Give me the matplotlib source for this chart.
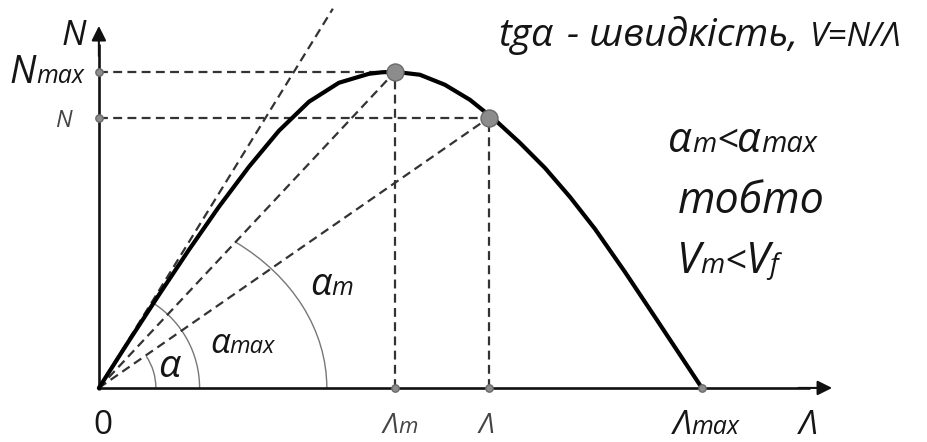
import numpy as np
import matplotlib.pyplot as plt
from matplotlib.patches import Arc

# Fundamental diagram: flow N against density Λ (arbitrary units, Λmax = 100)
lam_curve = [0.0, 4.98, 9.95, 14.93, 19.9, 24.88, 29.85, 34.83, 39.8, 44.78,
             46.93, 49.09, 53.24, 57.38, 61.53, 65.67, 69.82, 73.96, 78.11,
             82.26, 87.23, 92.21, 100.0]
n_curve = [0.0, 7.79, 15.42, 22.89, 30.02, 36.65, 42.62, 47.43, 50.58, 52.07,
           52.32, 52.4, 51.91, 50.25, 47.76, 44.44, 40.63, 36.48, 31.67,
           26.37, 19.24, 11.77, 0.0]

lam_m, n_max = 49.1, 52.4      # capacity point
lam_pt, n_pt = 64.7, 44.8      # arbitrary working point
lam_max = 100.0                # jam density
tangent_slope = 1.62           # free-flow speed (tangent at origin)
tangent_end = 38.8

plt.rcParams['font.family'] = ['Open Sans', 'DejaVu Sans']

fig = plt.figure(figsize=(9.28, 4.42), dpi=100)
ax = fig.add_axes([0, 0, 1, 1])
ax.set_xlim(-16.4, 137.5)
ax.set_ylim(-8.96, 64.3)
ax.axis('off')

ink = '#111111'
dash_col = '#333333'
dash = (0, (4.0, 2.4))

# axes with arrow heads
ax.plot([-0.3, 118], [0, 0], color=ink, lw=1.9, solid_capstyle='butt', zorder=3)
ax.plot([0, 0], [-0.3, 57], color=ink, lw=1.9, solid_capstyle='butt', zorder=3)
ax.annotate('', xy=(121.6, 0), xytext=(116, 0),
            arrowprops=dict(arrowstyle='-|>', color=ink, lw=1.5,
                            mutation_scale=22, shrinkA=0, shrinkB=0))
ax.annotate('', xy=(0, 60.0), xytext=(0, 55),
            arrowprops=dict(arrowstyle='-|>', color=ink, lw=1.5,
                            mutation_scale=22, shrinkA=0, shrinkB=0))

# rays from the origin: tangent, to capacity point, to working point
ax.plot([0, tangent_end], [0, tangent_slope * tangent_end],
        color=dash_col, lw=1.6, ls=dash)
ax.plot([0, lam_m], [0, n_max], color=dash_col, lw=1.6, ls=dash)
ax.plot([0, lam_pt], [0, n_pt], color=dash_col, lw=1.6, ls=dash)

# projections onto the axes
ax.plot([0, lam_m], [n_max, n_max], color=dash_col, lw=1.6, ls=dash)
ax.plot([0, lam_pt], [n_pt, n_pt], color=dash_col, lw=1.6, ls=dash)
ax.plot([lam_m, lam_m], [0, n_max], color=dash_col, lw=1.6, ls=dash)
ax.plot([lam_pt, lam_pt], [0, n_pt], color=dash_col, lw=1.6, ls=dash)

# the curve itself
ax.plot(lam_curve, n_curve, color='black', lw=3.0, solid_joinstyle='round',
        solid_capstyle='round', zorder=4)

# angle arcs
arc_col = '#777777'
ang_pt = np.degrees(np.arctan2(n_pt, lam_pt))
ang_m = np.degrees(np.arctan2(n_max, lam_m))
ang_tan = np.degrees(np.arctan(tangent_slope)) - 1.5
ax.add_patch(Arc((0, 0), 18.9, 18.9, theta1=0, theta2=ang_pt - 1,
                 color=arc_col, lw=1.0))
ax.add_patch(Arc((0, 0), 33.4, 33.4, theta1=0, theta2=ang_tan,
                 color=arc_col, lw=1.0))
ax.add_patch(Arc((0, 0), 75.6, 60.4, theta1=0, theta2=ang_m,
                 color=arc_col, lw=1.0))

# marked points
dot_face, dot_edge = '#8c8c8c', '#6a6a6a'
ax.scatter([lam_m, lam_pt], [n_max, n_pt], s=150, color=dot_face,
           edgecolor=dot_edge, lw=1.0, zorder=5)
ax.scatter([0, 0, lam_m, lam_pt, lam_max], [n_max, n_pt, 0, 0, 0], s=28,
           color=dot_face, edgecolor=dot_edge, lw=1.0, zorder=5)

txt = '#151515'
grey = '#444444'
renderer = fig.canvas.get_renderer()
px_per_unit = ax.transData.transform((1, 0))[0] - ax.transData.transform((0, 0))[0]


def run_text(x, y, pieces, color=txt, style='italic'):
    # write pieces of different size one after another on a common baseline
    for s, size in pieces:
        t = ax.text(x, y, s, fontsize=size, style=style, ha='left',
                    va='baseline', color=color)
        x += t.get_window_extent(renderer).width / px_per_unit


# axis labels
run_text(-6.2, 56.9, [('N', 25)])
run_text(-14.8, 50.6, [('N', 27), ('max', 18)])
run_text(-7.3, 43.3, [('N', 17)], color=grey)
ax.text(0.6, -7.7, '0', fontsize=24, ha='center', va='baseline', color=txt)

run_text(lam_m - 2.0, -7.5, [('Λ', 20), ('m', 16)], color=grey)
run_text(lam_pt - 1.7, -7.5, [('Λ', 20)], color=grey)
run_text(lam_max - 4.8, -7.7, [('Λ', 24), ('max', 18)])
run_text(116.1, -7.7, [('Λ', 24)])

# angle labels
run_text(9.8, 1.8, [('α', 28)])
run_text(18.4, 5.8, [('α', 25), ('max', 17)])
run_text(35.0, 15.4, [('α', 27), ('m', 18)])

# notes on the right
run_text(66.2, 56.6, [('tgα', 28)])
run_text(77.6, 56.6, [('- швидкість,', 28)])
run_text(117.9, 56.6, [('V=N/Λ', 24)])

run_text(94.4, 39.1, [('α', 30), ('m', 20), ('<', 27), ('α', 30), ('max', 21)])
run_text(96.0, 29.0, [('тобто', 31)])
run_text(95.8, 19.1, [('V', 31), ('m', 20), ('<', 27), ('V', 31), ('f', 20)])

fig.savefig('out.png', dpi=100)
